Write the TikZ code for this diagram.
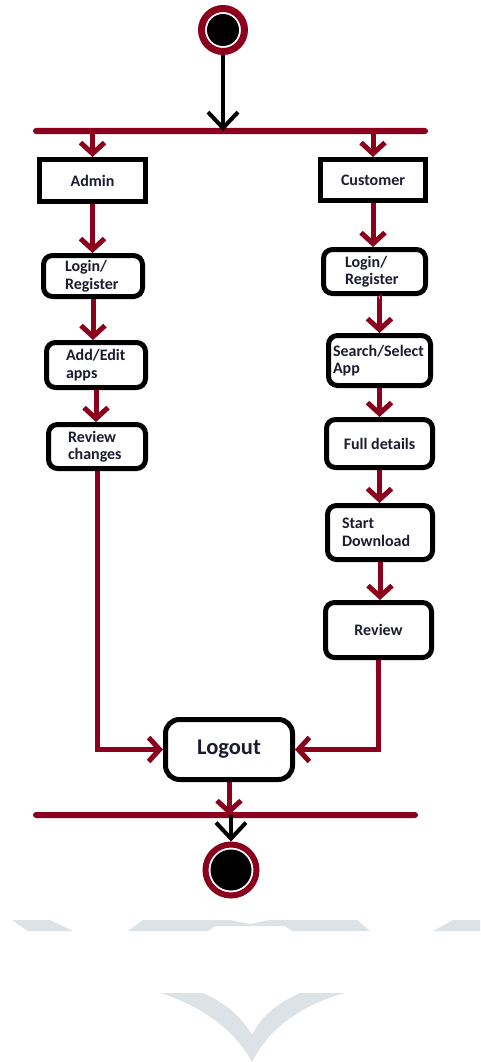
\documentclass[tikz,border=0pt]{standalone}
\usepackage{fontspec}
\setmainfont{Carlito}
\usetikzlibrary{arrows.meta}
\definecolor{maroon}{RGB}{139,0,28}
\definecolor{ink}{RGB}{28,28,48}
\definecolor{wmark}{RGB}{220,226,229}
\begin{document}
\begin{tikzpicture}[x=1pt, y=-1pt,
	act/.style={draw=black, line width=5pt, fill=white, rounded corners=9pt, inner sep=0pt, text=ink, font=\bfseries\fontsize{16}{17.5}\selectfont},
	bar/.style={fill=maroon, inner sep=0pt, minimum height=6pt, rounded corners=3pt},
	endpoint/.style={circle, draw=maroon, fill=white, inner sep=0pt, path picture={\fill[black] (path picture bounding box.center) circle (#1);}},
	flow/.style={draw=maroon, line width=5pt, -{Straight Barb[length=11pt,width=24pt]}},
	init/.style={draw=black, line width=4pt, -{Straight Barb[length=16pt,width=30pt]}}]
	\useasboundingbox (0,0) rectangle (480,1062);
	\node (start) at (223, 30)		[endpoint=16pt, line width=7pt, minimum size=43pt]	{};
	\node (fork) at (230.5, 131)	[bar, minimum width=395pt]	{};
	\node (admin) at (92.5, 180.5)	[act, sharp corners, minimum width=106pt, minimum height=42pt]	{Admin};
	\node (customer) at (373, 180)	[act, sharp corners, minimum width=105pt, minimum height=41pt]	{Customer};
	\node (aLogin) at (93, 276)		[act, minimum height=41pt, text width=56pt, inner xsep=21.5pt, align=left]	{Login/\\Register};
	\node (aEdit) at (96, 365)		[act, minimum height=45pt, text width=60pt, inner xsep=19.5pt, align=left]	{Add/Edit\\apps};
	\node (aReview) at (97, 446.5)	[act, minimum height=44pt, text width=58pt, inner xsep=19.5pt, align=left]	{Review\\changes};
	\node (cLogin) at (374.5, 271.5)	[act, minimum height=44pt, text width=59pt, inner xsep=21.5pt, align=left]	{Login/\\Register};
	\node (cSearch) at (379.5, 360.5)	[act, minimum height=50pt, text width=93pt, inner xsep=4.5pt, align=left]	{Search/Select\\App};
	\node (cDetails) at (379.5, 443.5)	[act, minimum width=106pt, minimum height=48pt]	{Full details};
	\node (cDownload) at (380, 532.5)	[act, minimum height=54pt, text width=76pt, inner xsep=14.5pt, align=left]	{Start\\Download};
	\node (cReview) at (378.5, 630)	[act, minimum width=106pt, minimum height=55pt]	{Review};
	\node (logout) at (229, 749.5)	[act, rounded corners=14pt, minimum width=127pt, minimum height=60pt, font=\bfseries\fontsize{22.5}{26}\selectfont]	{Logout};
	\node (join) at (225.5, 815)	[bar, minimum width=385pt]	{};
	\node (final) at (231, 870)		[endpoint=20.5pt, line width=6pt, minimum size=51pt]	{};
	\draw[init] (start) -- (start |- fork);
	\draw[flow] (fork -| admin) -- (admin);
	\draw[flow] (fork -| customer) -- (customer);
	\draw[flow] (admin) -- (admin |- aLogin.north);
	\draw[flow] (aLogin) -- (aLogin |- aEdit.north);
	\draw[flow] (aEdit) -- (aEdit |- aReview.north);
	\draw[flow] (aReview) |- (logout);
	\draw[flow] (customer) -- (customer |- cLogin.north);
	\draw[flow] (cLogin) -- (cLogin.south -| cSearch) -- (cSearch);
	\draw[flow] (cSearch) -- (cSearch |- cDetails.north);
	\draw[flow] (cDetails) -- (cDetails |- cDownload.north);
	\draw[flow] (cDownload) -- (cDownload |- cReview.north);
	\draw[flow] (cReview) |- (logout);
	\draw[flow] (logout) -- (logout |- join);
	\draw[init] (join -| final) -- (final);
	\fill[wmark] (12,920) -- (50,920) -- (73,931) -- (28,931) -- cycle;
	\fill[wmark] (128,931) -- (143,920) -- (230,920) -- (250,924) -- (270,920) -- (357,920) -- (370,931) -- (292,931) -- (285,926) -- (215,926) -- (208,931) -- cycle;
	\fill[wmark] (433,931) -- (453,920) -- (480,920) -- (480,931) -- cycle;
	\fill[wmark] (160,993) .. controls (200,1005) and (235,1030) .. (252,1062) .. controls (268,1030) and (300,1005) .. (345,993) -- (300,993) .. controls (278,1003) and (262,1015) .. (252,1035) .. controls (240,1015) and (225,1003) .. (203,993) -- cycle;
\end{tikzpicture}
\end{document}
